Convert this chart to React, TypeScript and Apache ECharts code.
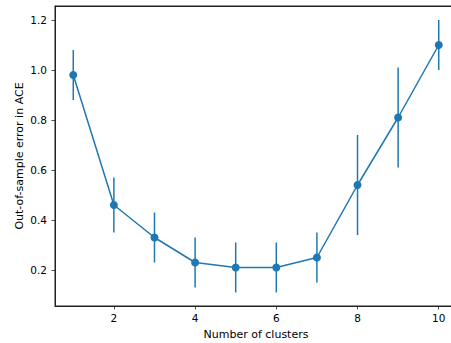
import React, { useEffect, useRef } from "react";
import * as echarts from "echarts";

const clusters = [1, 2, 3, 4, 5, 6, 7, 8, 9, 10];
const meanError = [0.98, 0.46, 0.33, 0.23, 0.21, 0.21, 0.25, 0.54, 0.81, 1.1];
const errHalf = [0.1, 0.11, 0.1, 0.1, 0.1, 0.1, 0.1, 0.2, 0.2, 0.1];
const xTicks = [2, 4, 6, 8, 10];
const yTicks = [0.2, 0.4, 0.6, 0.8, 1.0, 1.2];

const COLOR = "#1f77b4";
const FONT = "DejaVu Sans";

export default function App() {
  const ref = useRef<HTMLDivElement>(null);
  useEffect(() => {
    if (!ref.current) return;
    const chart = echarts.init(ref.current, null, { renderer: "svg" });
    const lineData = clusters.map((c, i) => [c, meanError[i]]);
    const errData = clusters.map((c, i) => [c, meanError[i] - errHalf[i], meanError[i] + errHalf[i]]);
    chart.setOption({
      animation: false,
      backgroundColor: "#fff",
      grid: {
        left: 55,
        top: 6,
        width: 402,
        height: 300,
        outerBoundsMode: "none",
        containLabel: false,
        show: true,
        borderColor: "#222",
        borderWidth: 1,
        backgroundColor: "transparent",
      },
      xAxis: [
        {
          type: "value",
          min: 0.55,
          max: 10.45,
          name: "Number of clusters",
          nameLocation: "middle",
          nameGap: 23,
          nameMoveOverlap: false,
          nameTextStyle: { fontFamily: FONT, fontSize: 11, color: "#000" },
          axisLine: { show: true, onZero: false, lineStyle: { color: "#222", width: 1 } },
          axisTick: { show: true, length: 3.5, lineStyle: { color: "#222", width: 0.8 }, customValues: xTicks },
          axisLabel: { fontFamily: FONT, fontSize: 10.5, color: "#000", margin: 6, customValues: xTicks },
          splitLine: { show: false },
        },
        {
          type: "value",
          position: "top",
          min: 0.55,
          max: 10.45,
          axisLine: { show: true, onZero: false, lineStyle: { color: "#222", width: 1 } },
          axisTick: { show: false },
          axisLabel: { show: false },
          splitLine: { show: false },
        },
      ],
      yAxis: {
        type: "value",
        min: 0.056,
        max: 1.256,
        name: "Out-of-sample error in ACE",
        nameLocation: "middle",
        nameRotate: 90,
        nameGap: 30,
        nameMoveOverlap: false,
        nameTextStyle: { fontFamily: FONT, fontSize: 11, color: "#000" },
        axisLine: { show: true, onZero: false, lineStyle: { color: "#222", width: 1 } },
        axisTick: { show: true, length: 3.5, lineStyle: { color: "#222", width: 0.8 }, customValues: yTicks },
        axisLabel: {
          fontFamily: FONT,
          fontSize: 10.5,
          color: "#000",
          margin: 8,
          customValues: yTicks,
          formatter: (v: number) => v.toFixed(1),
        },
        splitLine: { show: false },
      },
      series: [
        {
          type: "custom",
          data: errData,
          renderItem: (params: any, api: any) => {
            const x = api.value(0);
            const lo = api.coord([x, api.value(1)]);
            const hi = api.coord([x, api.value(2)]);
            return {
              type: "line",
              shape: { x1: lo[0], y1: lo[1], x2: hi[0], y2: hi[1] },
              style: { stroke: COLOR, lineWidth: 1.5 },
            };
          },
          z: 1,
        },
        {
          type: "line",
          data: lineData,
          symbol: "circle",
          symbolSize: 8,
          itemStyle: { color: COLOR },
          lineStyle: { color: COLOR, width: 1.5 },
          z: 2,
        },
      ],
    });
    return () => chart.dispose();
  }, []);
  return (
    <div
      ref={ref}
      style={{ position: "absolute", left: 0, top: 0, width: 451, height: 343, overflow: "hidden" }}
    />
  );
}
